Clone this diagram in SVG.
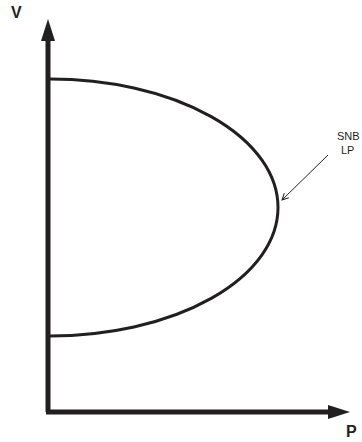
<svg xmlns="http://www.w3.org/2000/svg" width="362" height="442" viewBox="0 0 362 442">
<style>
.axis{stroke:#231f20;stroke-width:5;fill:none}
.curve{stroke:#231f20;stroke-width:3;fill:none}
.lbl{font-family:"Liberation Sans",Arial,sans-serif;font-weight:bold;font-size:16px;fill:#231f20}
.small{font-family:"Liberation Sans",Arial,sans-serif;font-size:11px;fill:#231f20}
.ptr{stroke:#231f20;stroke-width:1;fill:none}
</style>
<defs>
<marker id="open" viewBox="0 0 10 10" refX="9" refY="5" markerWidth="8" markerHeight="8" orient="auto" markerUnits="userSpaceOnUse">
<path d="M1,1 L9,5 L1,9" fill="none" stroke="#231f20" stroke-width="1.2"/>
</marker>
</defs>
<g id="connectors">
<line class="axis" x1="48" y1="412" x2="48" y2="38"/>
<polygon points="48,19 41,41 55,41" fill="#231f20"/>
<line class="axis" x1="46" y1="412" x2="330" y2="412"/>
<polygon points="350,412 328,405 328,419" fill="#231f20"/>
<line class="ptr" x1="328" y1="155" x2="282" y2="200" marker-end="url(#open)"/>
</g>
<g id="curve">
<path class="curve" d="M50,79 A228,128.5 0 0 1 50,336"/>
</g>
<g id="label-V"><text class="lbl" x="11" y="18">V</text></g>
<g id="label-P"><text class="lbl" x="346" y="437">P</text></g>
<g id="label-SNB"><text class="small" x="337" y="140">SNB</text><text class="small" x="341" y="154">LP</text></g>
</svg>
